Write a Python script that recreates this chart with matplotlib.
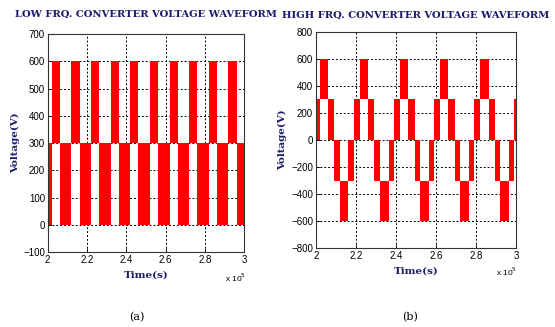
import matplotlib
matplotlib.use("Agg")
import matplotlib.pyplot as plt

# ---- data (time in units of 1e5) ----
# low frequency converter: 300..600 pulses and 0..300 pulses
low_hi_starts = [2.02, 2.12, 2.22, 2.32, 2.42, 2.52, 2.62, 2.72, 2.82, 2.92]
low_hi_width = 0.042
low_lo_starts = [1.962, 2.062, 2.162, 2.262, 2.362, 2.462, 2.562, 2.662, 2.762, 2.862, 2.962]
low_lo_width = 0.058

# high frequency converter: stepped multilevel wave, one cycle per 0.2
high_cycle_starts = [1.99, 2.19, 2.39, 2.59, 2.79, 2.99]
# segment inside a cycle: offset, width, bottom level, top level
high_seg_offset = [0.0, 0.03, 0.072, 0.103, 0.13, 0.173]
high_seg_width = [0.03, 0.042, 0.031, 0.027, 0.043, 0.027]
high_seg_low = [0, 300, 0, -300, -600, -300]
high_seg_high = [300, 600, 300, 0, -300, 0]

x_ticks = [2, 2.2, 2.4, 2.6, 2.8, 3]
x_labels = ["2", "2.2", "2.4", "2.6", "2.8", "3"]
low_yticks = [-100, 0, 100, 200, 300, 400, 500, 600, 700]
high_yticks = [-800, -600, -400, -200, 0, 200, 400, 600, 800]

NAVY = "#1b1b6b"
RED = "#ff0000"
TICKFONT = ["Liberation Sans", "DejaVu Sans"]


def style_axes(ax, yticks, ylab_x):
    ax.set_xlim(2, 3)
    ax.set_ylim(yticks[0], yticks[-1])
    ax.set_xticks(x_ticks)
    ax.set_xticklabels(x_labels)
    ax.set_yticks(yticks)
    ax.set_axisbelow(True)
    ax.grid(True, color="black", linestyle=(0, (2, 2)), linewidth=0.7)
    ax.tick_params(direction="in", length=3, width=0.6, labelsize=7, pad=2)
    for lab in ax.get_xticklabels() + ax.get_yticklabels():
        lab.set_family(TICKFONT)
    for sp in ax.spines.values():
        sp.set_linewidth(0.8)
        sp.set_color("#333333")
    ax.set_xlabel("Time(s)", family="DejaVu Serif", fontweight="heavy",
                  fontsize=7.5, color=NAVY, labelpad=4)
    ax.set_ylabel("Voltage(V)", family="DejaVu Serif", fontweight="heavy",
                  fontsize=7.5, color=NAVY)
    ax.yaxis.set_label_coords(ylab_x, 0.5)


fig = plt.figure(figsize=(5.55, 3.27), dpi=100)

# (a) low frequency
ax1 = fig.add_axes([0.086, 0.229, 0.354, 0.667])
ax1.bar(low_hi_starts, 300, bottom=300, width=low_hi_width, align="edge",
        color=RED, linewidth=0)
ax1.bar(low_lo_starts, 300, bottom=0, width=low_lo_width, align="edge",
        color=RED, linewidth=0)
style_axes(ax1, low_yticks, -0.14)
ax1.set_title("LOW FRQ. CONVERTER VOLTAGE WAVEFORM", family="DejaVu Serif",
              fontweight="heavy", fontsize=7.2, color=NAVY, pad=12)
ax1.text(0.9, -0.12, r"x 10$^5$", transform=ax1.transAxes, fontsize=6,
         family=TICKFONT, ha="left", va="center")

# (b) high frequency
ax2 = fig.add_axes([0.569, 0.241, 0.361, 0.662])
for c in high_cycle_starts:
    for off, w, lo, hi in zip(high_seg_offset, high_seg_width, high_seg_low, high_seg_high):
        ax2.bar(c + off, hi - lo, bottom=lo, width=w, align="edge",
                color=RED, linewidth=0)
style_axes(ax2, high_yticks, -0.145)
ax2.set_title("HIGH FRQ. CONVERTER VOLTAGE WAVEFORM", family="DejaVu Serif",
              fontweight="heavy", fontsize=7.2, color=NAVY, pad=10)
ax2.text(0.9, -0.11, r"x 10$^5$", transform=ax2.transAxes, fontsize=6,
         family=TICKFONT, ha="left", va="center")

fig.text(0.247, 0.02, "(a)", fontsize=8, family="DejaVu Serif", ha="center")
fig.text(0.739, 0.02, "(b)", fontsize=8, family="DejaVu Serif", ha="center")

fig.savefig("out.png", dpi=100)
